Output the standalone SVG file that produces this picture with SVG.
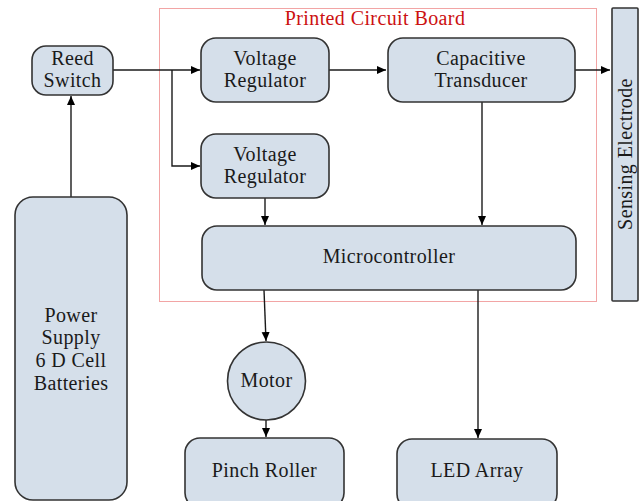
<svg xmlns="http://www.w3.org/2000/svg" width="643" height="501" viewBox="0 0 643 501">
<defs>
<marker id="ah" markerWidth="10" markerHeight="10" refX="9" refY="5" orient="auto" markerUnits="userSpaceOnUse">
<path d="M0,1 L9,5 L0,9 Z" fill="#000"/>
</marker>
<style>
.n{fill:#d5dfea;stroke:#333;stroke-width:1.6}
.t{font-family:"Liberation Serif","Times New Roman",serif;font-size:20px;letter-spacing:0.4px;fill:#1a1a1a;text-anchor:middle}
.c{fill:none;stroke:#1a1a1a;stroke-width:1.4}
.a{marker-end:url(#ah)}
</style>
</defs>
<rect width="643" height="501" fill="#fff"/>
<g id="pcb">
<rect x="159.5" y="8.5" width="437" height="293" fill="none" stroke="#f2a5a5" stroke-width="1"/>
<text x="375" y="25" class="t" style="fill:#cc1111">Printed Circuit Board</text>
</g>
<g id="connectors">
<path class="c a" d="M71,197 V96"/>
<path class="c a" d="M113,70 H200"/>
<path class="c a" d="M172,70 V166 H200"/>
<path class="c a" d="M329,70 H386"/>
<path class="c a" d="M575,70 H610"/>
<path class="c a" d="M482,102 V225"/>
<path class="c a" d="M265,198 V225"/>
<path class="c a" d="M264,290 L266,341"/>
<path class="c a" d="M266,420 V437"/>
<path class="c a" d="M478,290 V438"/>
</g>
<g id="reed">
<rect class="n" x="32" y="46" width="81" height="49" rx="14"/>
<text class="t" x="72.5" y="65">Reed</text>
<text class="t" x="72.5" y="87">Switch</text>
</g>
<g id="vr1">
<rect class="n" x="201" y="38" width="128" height="64" rx="15"/>
<text class="t" x="265" y="65">Voltage</text>
<text class="t" x="265" y="87">Regulator</text>
</g>
<g id="vr2">
<rect class="n" x="201" y="134" width="128" height="64" rx="15"/>
<text class="t" x="265" y="161">Voltage</text>
<text class="t" x="265" y="183">Regulator</text>
</g>
<g id="ct">
<rect class="n" x="388" y="38" width="187" height="64" rx="15"/>
<text class="t" x="481" y="65">Capacitive</text>
<text class="t" x="481" y="87">Transducer</text>
</g>
<g id="mc">
<rect class="n" x="202" y="226" width="374" height="64" rx="15"/>
<text class="t" x="389" y="263">Microcontroller</text>
</g>
<g id="se">
<rect class="n" x="612" y="8" width="26" height="293" rx="1"/>
<text class="t" transform="translate(632,154) rotate(-90)" x="0" y="0">Sensing Electrode</text>
</g>
<g id="ps">
<rect class="n" x="15" y="197" width="112" height="303" rx="18"/>
<text class="t" x="71" y="322">Power</text>
<text class="t" x="71" y="344">Supply</text>
<text class="t" x="71" y="367">6 D Cell</text>
<text class="t" x="71" y="390">Batteries</text>
</g>
<g id="motor">
<circle class="n" cx="266.5" cy="381" r="39"/>
<text class="t" x="266.5" y="387">Motor</text>
</g>
<g id="pr">
<rect class="n" x="185" y="438" width="159" height="70" rx="15"/>
<text class="t" x="264.5" y="477">Pinch Roller</text>
</g>
<g id="led">
<rect class="n" x="397" y="439" width="160" height="70" rx="15"/>
<text class="t" x="477" y="477">LED Array</text>
</g>
</svg>
